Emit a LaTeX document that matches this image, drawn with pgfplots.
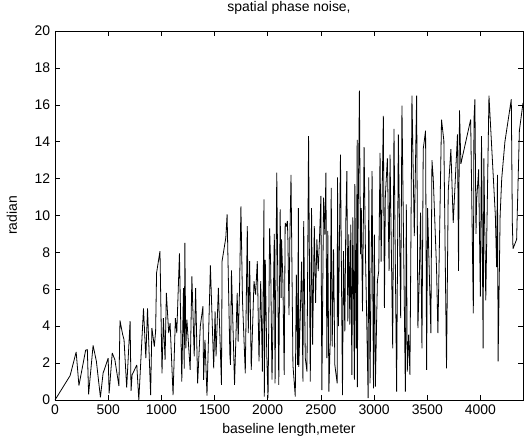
\documentclass[border=0pt]{standalone}
\usepackage{fontspec}
\setmainfont{Liberation Sans}
\usepackage{pgfplots}
\pgfplotsset{compat=1.18}
\begin{document}
\fontsize{14}{16}\selectfont
\begin{tikzpicture}
\begin{axis}[
    scale only axis,
    width=468bp, height=369bp,
    xmin=0, xmax=4400, ymin=0, ymax=20,
    xtick={0,500,...,4000}, ytick={0,2,...,20},
    tick align=inside, major tick length=5bp,
    tick style={black, line width=0.5pt},
    axis line style={black, line width=0.6pt},
    /pgf/number format/assume math mode=true,
    /pgf/number format/1000 sep={},
    ticklabel style={font=\fontsize{14}{16}\selectfont},
    title={spatial phase noise,},
    xlabel={baseline length,meter},
    ylabel={radian},
    title style={at={([yshift=14bp]axis description cs:0.5,1)}, anchor=base},
    xlabel style={at={([yshift=-30bp]axis description cs:0.5,0)}, anchor=center},
    ylabel style={at={([xshift=-43bp]axis description cs:0,0.5)}, anchor=center, rotate=0},
    ]
    \addplot [black, line width=0.8pt, mark=none, line join=miter, miter limit=2] table {
x y
0 0
142 1.32
199 2.6
225 0.78
288 2.7
304 2.73
316 0.31
358 2.96
389 2.1
427 0.15
452 1.45
500 2.27
509 0.36
538 2.55
563 2.18
601 0.76
611 4.31
636 3.55
649 3.27
674 0.67
706 4.27
715 0.49
725 1.36
769 1.9
788 0
832 4.96
854 2.27
870 4.96
899 0.27
911 3.9
934 2.9
946 3.73
955 6.89
987 8.07
1006 1.45
1019 4.44
1035 2.18
1047 5.8
1069 3.63
1082 4.17
1110 0.27
1132 4.44
1145 3.63
1170 7.94
1192 1.0
1208 6.07
1215 1.7
1221 8.52
1230 2.8
1240 4.35
1271 1.63
1287 6.7
1309 2.36
1322 6.07
1341 0.9
1366 4.0
1391 5.08
1397 1.09
1410 3.26
1429 0.24
1461 7.29
1492 1.72
1505 4.8
1514 2.36
1536 6.07
1565 0.82
1571 7.53
1606 8.8
1618 10.06
1644 2.45
1650 1.9
1659 7.02
1675 3.63
1688 0.82
1713 5.8
1722 3.17
1735 6.0
1748 10.5
1763 5.35
1789 1.45
1808 9.43
1817 3.63
1830 7.53
1845 1.63
1871 6.44
1886 5.71
1902 7.53
1918 2.09
1934 6.44
1950 1.54
1965 10.88
1968 0.18
1977 7.6
1991 2.45
2003 0.1
2018 9.3
2028 7.25
2040 1.1
2047 3.35
2062 9.0
2069 0.9
2085 12.33
2104 0.82
2117 10.33
2126 5.53
2130 8.7
2142 6.62
2155 1.36
2164 9.6
2175 9.4
2185 9.7
2190 8.6
2200 4.6
2208 8.7
2219 12.2
2237 1.9
2259 0.18
2269 6.8
2281 1.9
2288 10.4
2292 1.8
2300 3.35
2319 7.5
2331 1.0
2338 9.7
2353 2.27
2369 1.54
2384 14.3
2400 1.0
2412 10.4
2422 3.0
2438 9.43
2450 5.26
2462 8.7
2475 6.98
2487 8.8
2500 11.06
2509 0.54
2525 10.97
2537 8.97
2547 12.33
2556 2.27
2565 9.16
2575 0.45
2587 3.08
2597 11.5
2606 2.9
2619 8.16
2631 1.9
2653 0.9
2656 12.06
2665 4.0
2684 13.3
2694 6.26
2703 0.27
2712 8.07
2725 3.72
2734 9.6
2744 12.4
2753 4.26
2762 8.97
2772 4.08
2781 9.5
2791 1.36
2800 9.9
2809 4.8
2815 1.1
2819 11.7
2831 2.8
2841 14.1
2843 0.7
2850 9.7
2862 16.77
2872 7.9
2880 10.4
2891 4.8
2906 13.7
2919 7.9
2931 4.26
2944 0.1
2950 12.06
2962 0.9
2981 12.4
2994 0.63
3003 8.97
3012 0.72
3031 6.44
3044 7.0
3056 13.4
3066 7.5
3087 15.4
3097 5.0
3106 11.06
3125 13.1
3141 7.0
3150 13.3
3175 2.8
3187 14.7
3212 0.45
3228 14.4
3250 4.44
3262 15.96
3294 0.45
3303 10.6
3312 1.54
3325 3.54
3337 1.36
3356 16.5
3378 8.88
3400 16.5
3412 3.9
3425 6.62
3437 10.15
3450 2.8
3462 13.6
3484 14.6
3494 1.63
3503 10.4
3534 3.63
3544 13.0
3556 12.06
3587 7.16
3600 3.63
3634 15.2
3656 14.05
3681 1.72
3697 11.3
3722 13.6
3744 9.6
3784 14.4
3794 7.0
3803 15.7
3816 12.8
3908 15.2
3933 4.7
3939 15.2
3948 16.3
3958 9.0
3964 10.8
3983 12.5
3999 5.6
4010 14.3
4025 2.8
4032 13.1
4050 5.4
4080 16.5
4140 10
4152 7.2
4160 12.2
4166 2.1
4185 10
4200 12
4230 14
4290 16.3
4300 9.5
4306 8.2
4340 8.7
4366 14.6
4400 16.1
};
\end{axis}
\pgfresetboundingbox
\path (-55bp,-39bp) rectangle (469bp,400bp);
\end{tikzpicture}
\end{document}
